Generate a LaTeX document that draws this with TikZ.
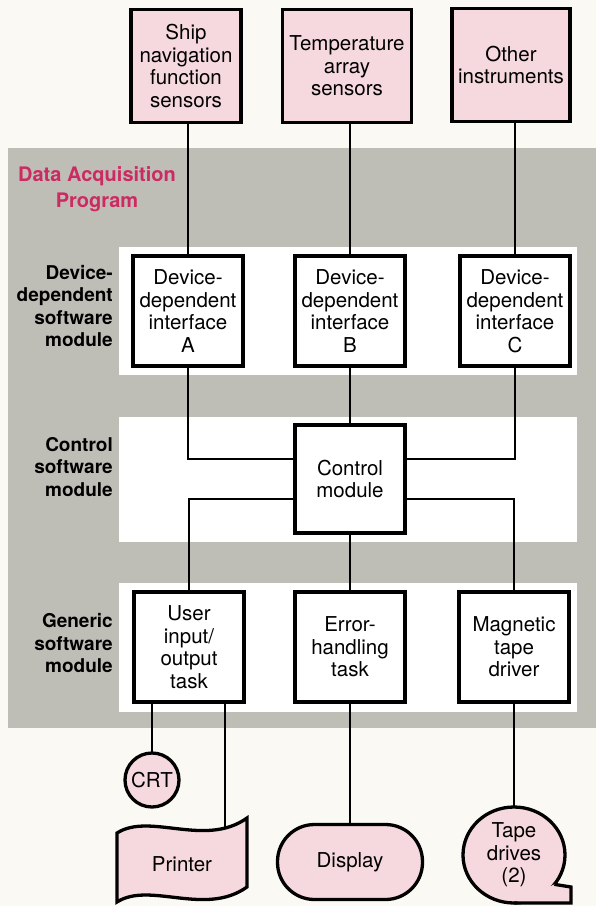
\documentclass[tikz,border=0pt]{standalone}
\usepackage{fontspec}
\setmainfont{TeX Gyre Heros}
\usetikzlibrary{positioning, shapes.geometric}
\definecolor{paper}{RGB}{251,249,243}
\definecolor{bandgray}{RGB}{191,190,182}
\definecolor{sensorpink}{RGB}{246,217,222}
\definecolor{progred}{RGB}{204,42,98}

\tikzset{
  outline/.style={line width=3.3pt, line join=miter},
  box/.style={draw, outline, fill=white, minimum width=110, minimum height=110,
    align=center, inner sep=1pt, font=\fontsize{20.5}{22.5}\selectfont},
  sensor/.style={box, fill=sensorpink, minimum height=113, line width=3.6pt},
  device/.style={draw, outline, fill=sensorpink, align=center, inner sep=0pt,
    outer sep=0pt, font=\fontsize{20.5}{22.5}\selectfont},
  tier/.style={anchor=east, align=right, inner sep=0pt,
    font=\bfseries\fontsize{19}{22.5}\selectfont},
  link/.style={line width=2.2pt}
}

\begin{document}
\begin{tikzpicture}[x=1pt, y=-1pt]
  % paper, program frame and the three module bands
  \fill[paper] (0,0) rectangle (596,906);
  \useasboundingbox (0,0) rectangle (596,906);
  \fill[bandgray] (8,148) rectangle (596,728);
  \foreach \ya/\yb in {247/375, 417/542, 583/712}
    \fill[white] (119,\ya) rectangle (577,\yb);

  % sensors
  \node[sensor, minimum width=110] (ship) at (186,66) {Ship\\navigation\\function\\sensors};
  \node[sensor, minimum width=129] (temp) at (347,66) {Temperature\\array\\sensors};
  \node[sensor, minimum width=118] (other) at (511,65) {Other\\instruments};

  \node[align=center, text=progred, font=\bfseries\fontsize{20}{26}\selectfont]
    (dap) at (97,189) {Data Acquisition\\Program};

  % module tiers
  \node[tier] (tdev) at (113,306) {Device-\\dependent\\software\\module};
  \node[tier] (tctl) at (113,467) {Control\\software\\module};
  \node[tier] (tgen) at (113,643) {Generic\\software\\module};

  \foreach \x/\n in {188/A, 350/B, 515/C}
    \node[box] (dev\n) at (\x,311) {Device-\\dependent\\interface\\\n};

  \node[box, minimum height=108] (ctrl) at (350,479) {Control\\module};

  \node[box] (uio) at (189,647) {User\\input/\\output\\task};
  \node[box] (err) at (350,647) {Error-\\handling\\task};
  \node[box] (tape) at (514,647) {Magnetic\\tape\\driver};

  % peripherals
  \node[device, circle, minimum size=54] (crt) at (152,780) {CRT};
  \filldraw[outline, fill=sensorpink]
    (117,833) .. controls (150,812) and (205,848) .. (247,818)
    -- (247,887) .. controls (205,917) and (150,881) .. (117,902) -- cycle;
  \node[font=\fontsize{20.5}{22.5}\selectfont] (prn) at (182,864) {Printer};
  \coordinate (prntop) at (225,828);
  \node[device, rounded corners=37pt, minimum width=145, minimum height=75]
    (disp) at (350,862) {Display};
  \node[device, ellipse, minimum width=102, minimum height=96]
    (drives) at (514,855) {Tape\\drives\\(2)};
  \fill[sensorpink] (drives.-90) -- ++(57,0) -- ++(0,-16) -- (drives.-36) -- cycle;
  \draw[outline] (drives.-90) -- ++(57,0) -- ++(0,-16) -- (drives.-36);

  % connectors
  \draw[link] (devA.north) -- (devA.north |- ship.south);
  \draw[link] (devB.north) -- (devB.north |- temp.south);
  \draw[link] (devC.north) -- (devC.north |- other.south);
  \draw[link] (devA.south) |- ([yshift=-36pt]ctrl.north west);
  \draw[link] (devC.south) |- ([yshift=-36pt]ctrl.north east);
  \draw[link] (devB.south) -- (ctrl.north);
  \draw[link] ([yshift=36pt]ctrl.south west) -| (uio.north);
  \draw[link] ([yshift=36pt]ctrl.south east) -| (tape.north);
  \draw[link] (ctrl.south) -- (err.north);
  \draw[link] (crt.north) -- (crt.north |- uio.south);
  \draw[link] (prntop) -- (prntop |- uio.south);
  \draw[link] (disp.north) -- (err.south);
  \draw[link] (drives.north) -- (tape.south);
\end{tikzpicture}
\end{document}
